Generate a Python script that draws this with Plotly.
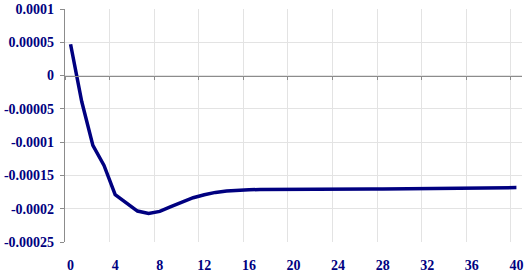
import plotly.graph_objects as go

periods = list(range(41))
response = [
    4.7e-5, -3.9e-5, -1.05e-4, -1.35e-4, -1.79e-4, -1.915e-4, -2.035e-4, -2.07e-4,
    -2.04e-4, -1.97e-4, -1.90e-4, -1.835e-4, -1.79e-4, -1.755e-4, -1.735e-4, -1.722e-4,
    -1.715e-4, -1.712e-4, -1.710e-4, -1.710e-4, -1.709e-4, -1.709e-4, -1.708e-4, -1.708e-4,
    -1.708e-4, -1.707e-4, -1.706e-4, -1.705e-4, -1.704e-4, -1.703e-4, -1.701e-4, -1.700e-4,
    -1.698e-4, -1.697e-4, -1.695e-4, -1.693e-4, -1.691e-4, -1.689e-4, -1.687e-4, -1.685e-4,
    -1.683e-4,
]
x_tick_vals = list(range(0, 41, 4))
x_tick_text = [str(v) for v in x_tick_vals]
x_grid_vals = [v - 0.5 for v in x_tick_vals]
y_tick_vals = [0.0001, 0.00005, 0, -0.00005, -0.0001, -0.00015, -0.0002, -0.00025]
y_tick_text = ["0.0001", "0.00005", "0", "-0.00005", "-0.0001", "-0.00015", "-0.0002", "-0.00025"]

y_min, y_max = -0.00025, 0.0001
x_min, x_max = -0.5, 40.5
navy = "#000080"
fam = "Liberation Serif"
tick_font = dict(family=fam, size=14, color=navy)

fig = go.Figure()
fig.add_trace(go.Scatter(x=periods, y=response, mode="lines",
                         line=dict(color=navy, width=3.5), showlegend=False,
                         hoverinfo="skip"))
fig.add_trace(go.Scatter(x=[], y=[], xaxis="x2", showlegend=False))

zero_pos = (0 - y_min) / (y_max - y_min)

fig.update_layout(
    width=528, height=273,
    margin=dict(l=65, r=6, t=9, b=31),
    paper_bgcolor="white", plot_bgcolor="white",
    font=tick_font,
    xaxis=dict(range=[x_min, x_max], tickvals=x_tick_vals,
               ticktext=[f"<b>{t}</b>" for t in x_tick_text],
               showgrid=False, zeroline=False, showline=False, automargin=False,
               ticks="outside", ticklen=10, tickcolor="rgba(0,0,0,0)",
               tickfont=tick_font),
    xaxis2=dict(range=[x_min, x_max], overlaying="x", anchor="free", position=zero_pos,
                side="bottom", tickvals=x_grid_vals, showticklabels=False,
                showgrid=True, gridcolor="#e3e3e3", gridwidth=1, automargin=False,
                showline=True, linecolor="#8c8c8c", linewidth=1.3,
                ticks="outside", ticklen=3, tickcolor="#8c8c8c", zeroline=False),
    yaxis=dict(range=[y_min, y_max], tickvals=y_tick_vals,
               ticktext=[f"<b>{t}</b>" for t in y_tick_text],
               showgrid=True, gridcolor="#e3e3e3", gridwidth=1, zeroline=False,
               showline=True, linecolor="#8c8c8c", linewidth=1.3, automargin=False,
               ticks="outside", ticklen=4, tickcolor="#8c8c8c",
               ticklabelstandoff=3, tickfont=tick_font),
)

fig.write_html("out.html", config={"displayModeBar": False},
               post_script="document.body.style.margin='0';")
